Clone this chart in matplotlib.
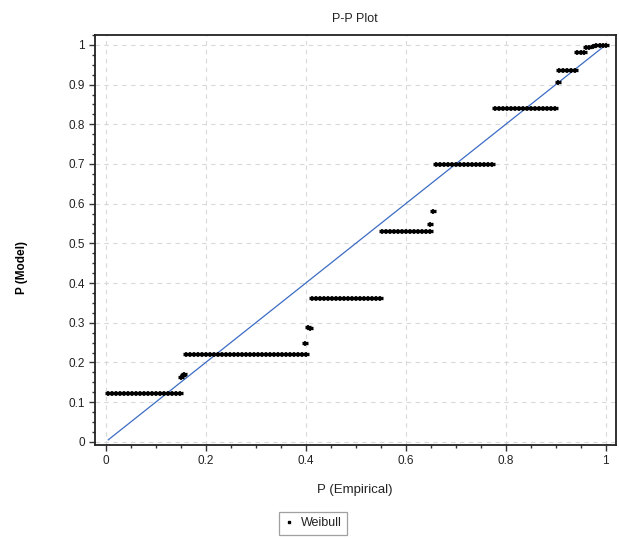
import matplotlib
matplotlib.use("Agg")
import matplotlib.pyplot as plt
from matplotlib.ticker import MultipleLocator, FormatStrFormatter
from matplotlib.lines import Line2D

plt.rcParams['font.family'] = ['Liberation Sans', 'DejaVu Sans']

# ---- data ----
step1_x = [0.005, 0.013, 0.021, 0.029, 0.037, 0.045, 0.053, 0.061, 0.069, 0.077,
           0.085, 0.093, 0.101, 0.109, 0.117, 0.125, 0.133, 0.141, 0.149]
step1_y = [0.123] * len(step1_x)
jump1_x = [0.151, 0.154, 0.157]
jump1_y = [0.163, 0.168, 0.171]
step2_x = [0.160, 0.168, 0.176, 0.184, 0.192, 0.200, 0.208, 0.216, 0.224, 0.232,
           0.240, 0.248, 0.256, 0.264, 0.272, 0.280, 0.288, 0.296, 0.304, 0.312,
           0.320, 0.328, 0.336, 0.344, 0.352, 0.360, 0.368, 0.376, 0.384, 0.392, 0.400]
step2_y = [0.222] * len(step2_x)
jump2_x = [0.399, 0.405, 0.409]
jump2_y = [0.248, 0.290, 0.286]
step3_x = [0.413, 0.421, 0.429, 0.437, 0.445, 0.453, 0.461, 0.469, 0.477, 0.485,
           0.493, 0.501, 0.509, 0.517, 0.525, 0.533, 0.541, 0.549]
step3_y = [0.363] * len(step3_x)
step4_x = [0.553, 0.561, 0.569, 0.577, 0.585, 0.593, 0.601, 0.609, 0.617, 0.625,
           0.633, 0.641, 0.648]
step4_y = [0.532] * len(step4_x)
jump4_x = [0.649, 0.655]
jump4_y = [0.548, 0.581]
step5_x = [0.660, 0.668, 0.676, 0.684, 0.692, 0.700, 0.708, 0.716, 0.724, 0.732,
           0.740, 0.748, 0.756, 0.764, 0.772]
step5_y = [0.701] * len(step5_x)
step6_x = [0.779, 0.787, 0.795, 0.803, 0.811, 0.819, 0.827, 0.835, 0.843, 0.851,
           0.859, 0.867, 0.875, 0.883, 0.891, 0.898]
step6_y = [0.840] * len(step6_x)
jump6_x = [0.905]
jump6_y = [0.906]
step7_x = [0.907, 0.915, 0.923, 0.931, 0.938]
step7_y = [0.938] * len(step7_x)
step8_x = [0.943, 0.950, 0.956]
step8_y = [0.981] * len(step8_x)
step9_x = [0.960, 0.967, 0.974, 0.981, 0.988, 0.995, 1.000]
step9_y = [0.996, 0.996, 0.998, 0.999, 1.000, 1.000, 1.000]

p_empirical = (step1_x + jump1_x + step2_x + jump2_x + step3_x + step4_x + jump4_x
               + step5_x + step6_x + jump6_x + step7_x + step8_x + step9_x)
p_model = (step1_y + jump1_y + step2_y + jump2_y + step3_y + step4_y + jump4_y
           + step5_y + step6_y + jump6_y + step7_y + step8_y + step9_y)

ref_line_x = [0.005, 1.0]
ref_line_y = [0.005, 1.0]

x_ticks = [0, 0.2, 0.4, 0.6, 0.8, 1]
y_ticks = [0, 0.1, 0.2, 0.3, 0.4, 0.5, 0.6, 0.7, 0.8, 0.9, 1]

title = "P-P Plot"
x_label = "P (Empirical)"
y_label = "P (Model)"
series_name = "Weibull"

# ---- figure ----
W, H = 619, 538
fig = plt.figure(figsize=(W / 100, H / 100), dpi=100)
left, right, top, bottom = 94.5, 616, 35, 445
ax = fig.add_axes([left / W, 1 - bottom / H, (right - left) / W, (bottom - top) / H])

ax.set_xlim(-0.0225, 1.0205)
ax.set_ylim(-0.008, 1.025)

ax.grid(True, which='major', color='#d9d9d9', linestyle=(0, (4, 4)), linewidth=0.8)
ax.set_axisbelow(True)

ax.plot(ref_line_x, ref_line_y, color='#3c6cc4', linewidth=0.9, zorder=2)
# heavy baseline of each plateau (overlapping marker arms)
ax.plot(p_empirical, p_model, linestyle='none', marker='_', markersize=4.5,
        markeredgewidth=2.4, color='black', zorder=3)
ax.plot(p_empirical, p_model, linestyle='none', marker='+', markersize=3.6,
        markeredgewidth=1.2, color='black', zorder=3)

ax.set_xticks(x_ticks)
ax.set_yticks(y_ticks)
ax.xaxis.set_minor_locator(MultipleLocator(0.05))
ax.yaxis.set_minor_locator(MultipleLocator(0.025))
ax.xaxis.set_major_formatter(FormatStrFormatter('%g'))
ax.yaxis.set_major_formatter(FormatStrFormatter('%g'))
ax.tick_params(which='major', direction='out', length=4.5, width=1.0, color='#333333',
               labelsize=8.5, labelcolor='#222222', pad=2.5)
ax.tick_params(which='minor', direction='out', length=2.5, width=1.0, color='#333333')

for s in ax.spines.values():
    s.set_color('#222222')
    s.set_linewidth(1.3)

ax.set_title(title, fontsize=9, color='#222222', pad=9)
ax.set_xlabel(x_label, fontsize=9.5, color='#222222')
ax.xaxis.set_label_coords((355 - left) / (right - left), -(484 - bottom) / (bottom - top))
ax.set_ylabel(y_label, fontsize=8.5, color='black', fontweight='bold')
ax.yaxis.set_label_coords(-(left - 28) / (right - left), (bottom - 268) / (bottom - top))

handle = Line2D([], [], linestyle='none', marker='s', markersize=2.0, color='black')
leg = fig.legend([handle], [series_name], loc='center', bbox_to_anchor=(313 / W, 1 - 523.5 / H),
                 fontsize=9, frameon=True, fancybox=False, handlelength=0.8,
                 handletextpad=0.5, borderpad=0.45, borderaxespad=0.0,
                 edgecolor='#888888')
leg.get_frame().set_linewidth(0.9)
for t in leg.get_texts():
    t.set_color('#222222')

fig.savefig("out.png", dpi=100)
